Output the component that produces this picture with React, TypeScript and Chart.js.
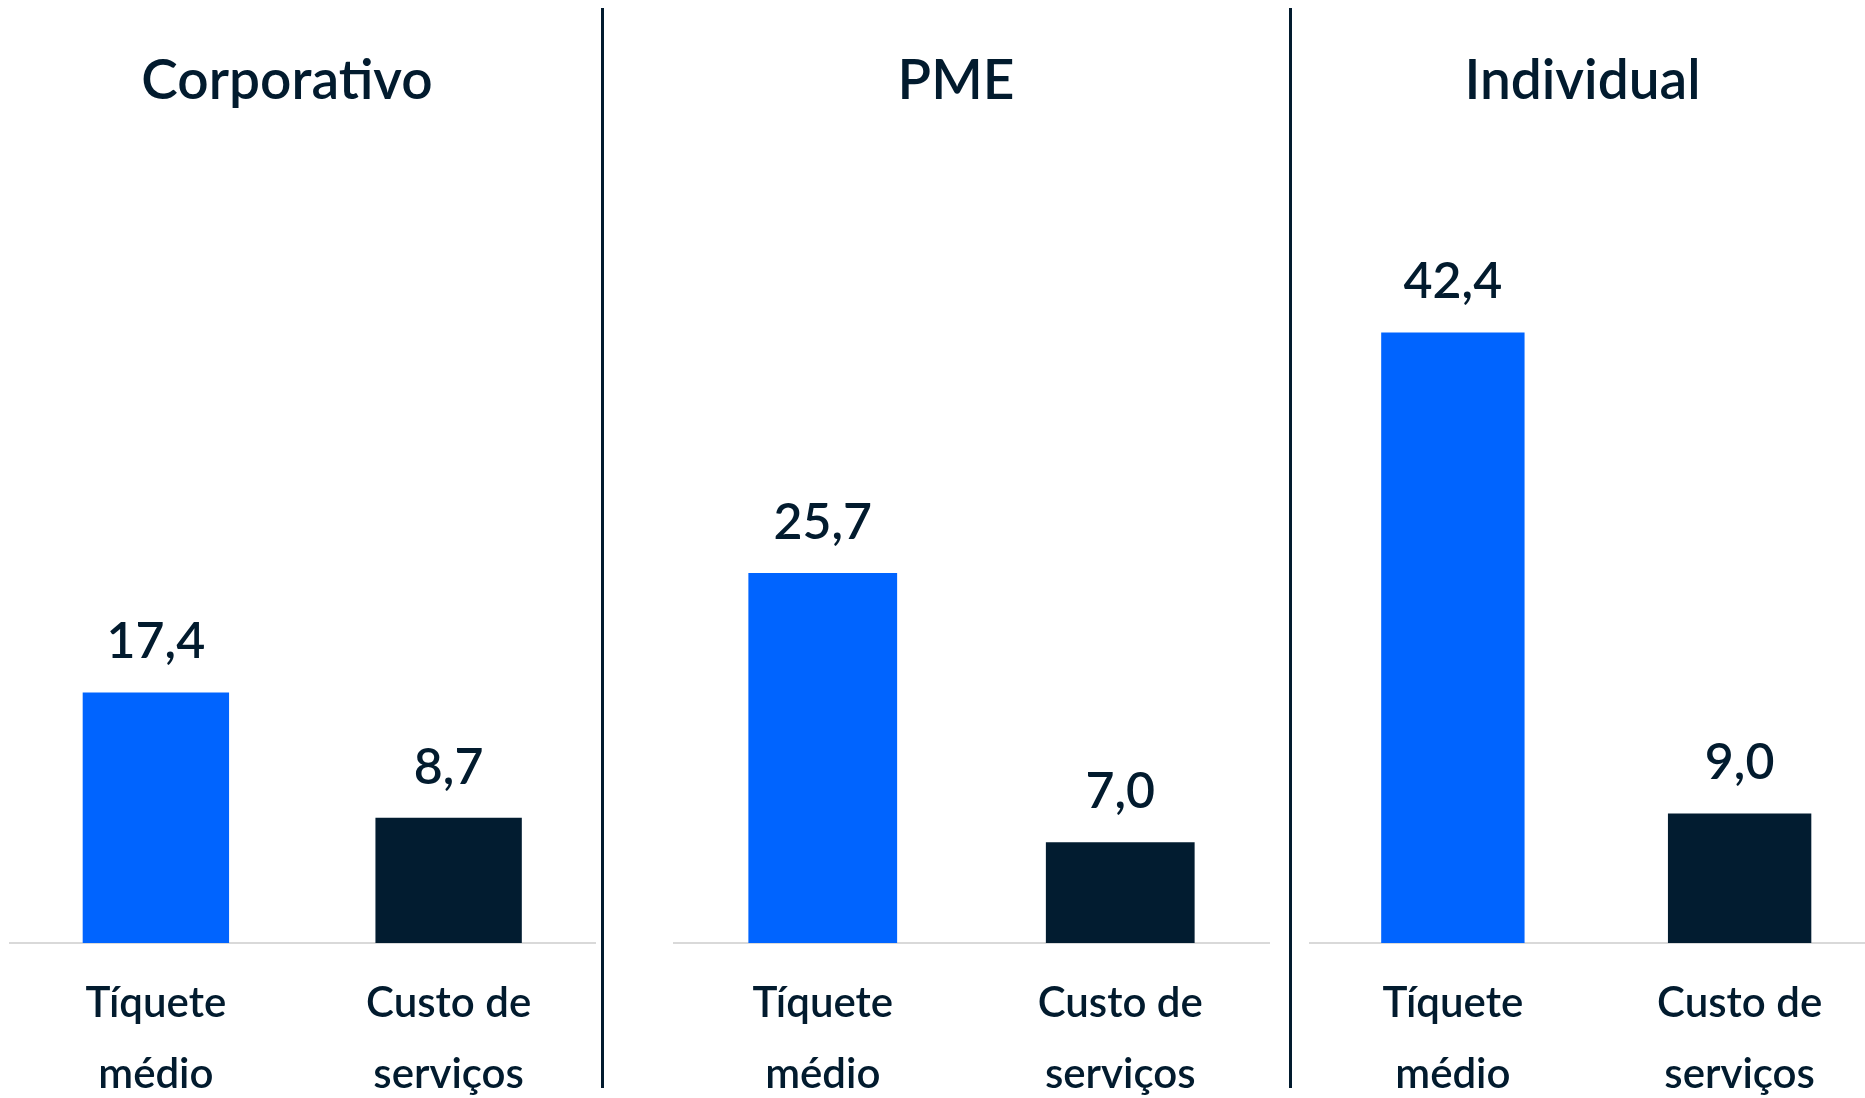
import React, { useEffect, useRef } from "react";
import { Chart, registerables } from "chart.js";

Chart.register(...registerables);

// ---- data ----
const panelTitles = ["Corporativo", "PME", "Individual"];
const categoryLabels = [
  ["Tíquete", "médio"],
  ["Custo de", "serviços"],
];
const corporativoValues = [17.4, 8.7];
const pmeValues = [25.7, 7.0];
const individualValues = [42.4, 9.0];
const panelValues = [corporativoValues, pmeValues, individualValues];
const barColors = ["#0064FF", "#021C30"];
const yMin = 0;
const yMax = 55;

// ---- style ----
const FONT = "Lato, 'Noto Sans', sans-serif";
const TEXT = "#021B2E";
const AXIS = "#D9D9D9";
const W = 1865;
const H = 1098;

const panelLayouts = [
  { left: 0, width: 602, padL: 9.5, padR: 7, titleX: 287 },
  { left: 602, width: 688, padL: 72, padR: 21, titleX: 354 },
  { left: 1290, width: 593, padL: 19.5, padR: 0, titleX: 292.5 },
];

const fmt = (v: number) => v.toFixed(1).replace(".", ",");

const overlayPlugin = {
  id: "overlay",
  afterDatasetsDraw(chart: any, _args: any, opts: any) {
    const ctx = chart.ctx;
    const meta = chart.getDatasetMeta(0);
    const data = chart.data.datasets[0].data as number[];
    ctx.save();
    ctx.fillStyle = TEXT;
    ctx.textAlign = "center";
    ctx.textBaseline = "alphabetic";
    ctx.font = `600 50px ${FONT}`;
    meta.data.forEach((bar: any, i: number) => {
      ctx.fillText(fmt(data[i]), bar.x, bar.y - 34);
    });
    ctx.font = `600 55px ${FONT}`;
    ctx.fillText(opts.title, opts.titleX, 99);
    ctx.restore();
  },
};

function Panel({ index }: { index: number }) {
  const ref = useRef<HTMLCanvasElement | null>(null);
  const lay = panelLayouts[index];
  useEffect(() => {
    if (!ref.current) return;
    const chart = new Chart(ref.current, {
      type: "bar",
      data: {
        labels: categoryLabels,
        datasets: [
          {
            data: panelValues[index],
            backgroundColor: barColors,
            borderWidth: 0,
            barPercentage: 1,
            categoryPercentage: 0.5,
          },
        ],
      },
      options: {
        responsive: false,
        animation: false,
        devicePixelRatio: 1,
        layout: {
          padding: { left: lay.padL, right: lay.padR, top: 151, bottom: 0 },
        },
        plugins: {
          legend: { display: false },
          tooltip: { enabled: false },
          title: { display: false },
          overlay: { title: panelTitles[index], titleX: lay.titleX },
        } as any,
        scales: {
          x: {
            grid: { display: false, drawTicks: false },
            border: { display: true, color: AXIS, width: 2 },
            ticks: {
              color: TEXT,
              padding: 24.5,
              maxRotation: 0,
              autoSkip: false,
              font: { family: FONT, size: 42, weight: "600", lineHeight: 71 / 42 },
            },
            afterFit: (scale: any) => {
              scale.height = 155;
            },
          },
          y: { display: false, min: yMin, max: yMax },
        },
      },
      plugins: [overlayPlugin],
    });
    return () => chart.destroy();
  }, [index]);
  return (
    <canvas
      ref={ref}
      width={lay.width}
      height={H}
      style={{ position: "absolute", left: lay.left, top: 0, width: lay.width, height: H }}
    />
  );
}

export default function App() {
  return (
    <div
      style={{
        position: "fixed",
        left: 0,
        top: 0,
        width: W,
        height: H,
        overflow: "hidden",
        background: "#ffffff",
      }}
    >
      <Panel index={0} />
      <Panel index={1} />
      <Panel index={2} />
      <div style={{ position: "absolute", left: 600.5, top: 8, width: 3, height: 1080, background: TEXT }} />
      <div style={{ position: "absolute", left: 1289, top: 8, width: 3, height: 1080, background: TEXT }} />
    </div>
  );
}
